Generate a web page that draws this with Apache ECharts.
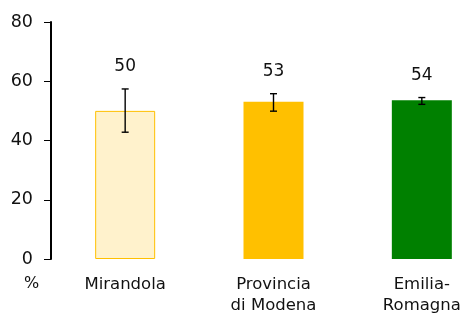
<!DOCTYPE html>
<html>
<head>
<meta charset="utf-8">
<script src="https://cdn.jsdelivr.net/npm/echarts@6/dist/echarts.min.js"></script>
<style>html,body{margin:0;padding:0;background:#fff}#c{width:462px;height:314px}</style>
</head>
<body>
<div id="c"></div>
<script>
// valori
const categories = ['Mirandola', 'Provincia\ndi Modena', 'Emilia-\nRomagna'];
const values = [50.0, 53.1, 53.6];
const errLow = [42.8, 49.9, 52.2];
const errHigh = [57.4, 55.8, 54.5];
const yTicks = [0, 20, 40, 60, 80];

const FONT = 'DejaVu Sans';
const barStyles = [
  { color: '#FFF2CC', borderColor: '#FFC000', borderWidth: 1 },
  { color: '#FFC000' },
  { color: '#008000' },
];

const chart = echarts.init(document.getElementById('c'), null, { renderer: 'canvas' });
chart.setOption({
  animation: false,
  grid: { left: 51, top: 22, bottom: 55, right: -34, outerBoundsMode: 'none', containLabel: false },
  xAxis: {
    type: 'category', data: categories,
    axisLine: { show: false }, axisTick: { show: false },
    axisLabel: { color: '#111', fontFamily: FONT, fontSize: 16.5, margin: 15, lineHeight: 21, interval: 0 },
  },
  yAxis: {
    type: 'value', min: yTicks[0], max: yTicks[yTicks.length - 1], interval: 20,
    axisLine: { show: true, lineStyle: { color: '#000', width: 2 } },
    axisTick: { show: true, length: 7, lineStyle: { color: '#000' } },
    splitLine: { show: false },
    axisLabel: { color: '#111', fontFamily: FONT, fontSize: 17.5, margin: 18 },
  },
  graphic: [{ type: 'text', left: 24, top: 276, style: { text: '%', fontFamily: FONT, fontSize: 16, fill: '#111' } }],
  series: [
    {
      type: 'bar', barWidth: 60,
      data: values.map((v, i) => ({ value: v, itemStyle: barStyles[i] })),
    },
    {
      type: 'custom', z: 5,
      data: values.map((v, i) => [i, errLow[i], errHigh[i], v]),
      renderItem: (params, api) => {
        const x = api.coord([api.value(0), 0])[0];
        const lo = api.coord([api.value(0), api.value(1)])[1];
        const hi = api.coord([api.value(0), api.value(2)])[1];
        const w = 3.5;
        const st = { stroke: '#000', lineWidth: 1.4 };
        return {
          type: 'group', children: [
            { type: 'line', shape: { x1: x, y1: lo, x2: x, y2: hi }, style: st },
            { type: 'line', shape: { x1: x - w, y1: lo, x2: x + w, y2: lo }, style: st },
            { type: 'line', shape: { x1: x - w, y1: hi, x2: x + w, y2: hi }, style: st },
            { type: 'text', x: x, y: hi - 22, style: { text: String(Math.round(api.value(3))), fontFamily: FONT, fontSize: 17, fill: '#111', align: 'center', verticalAlign: 'middle' } },
          ],
        };
      },
    },
  ],
});
</script>
</body>
</html>
